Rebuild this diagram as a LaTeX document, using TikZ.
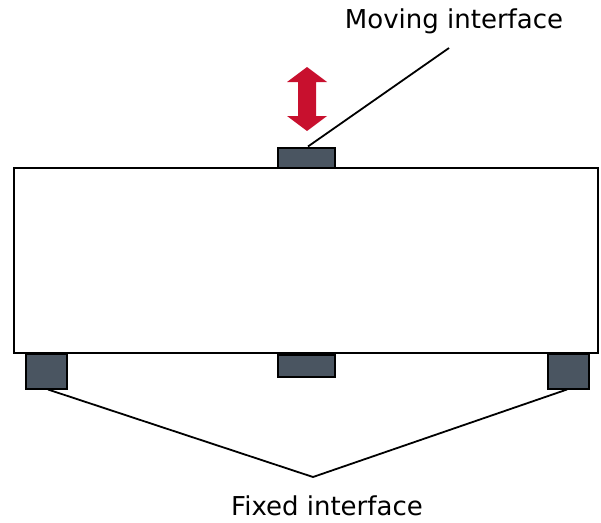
\documentclass[tikz,border=0pt]{standalone}
\usepackage{fontspec}
\setmainfont{DejaVu Sans}
\definecolor{padcol}{HTML}{4A5561}
\definecolor{arrred}{HTML}{C8102E}
\begin{document}
\begin{tikzpicture}[x=1pt,y=-1pt,
  body/.style={draw=black,line width=2.4pt,fill=white,inner sep=0pt},
  pad/.style={draw=black,line width=2pt,fill=padcol,inner sep=0pt},
  leader/.style={draw=black,line width=1.8pt},
  lbl/.style={font=\fontsize{26}{30}\selectfont,inner sep=0pt}]
\useasboundingbox (0,0) rectangle (601,522);
\node[body,minimum width=584pt,minimum height=185pt] (box) at (306,260.5) {};
\node[pad,minimum width=57pt,minimum height=20pt] (toppad) at (306,157.5) {};
\node[pad,minimum width=57pt,minimum height=22pt] (midpad) at (306.5,366) {};
\node[pad,minimum width=41pt,minimum height=35pt] (lpad) at (46.5,371) {};
\node[pad,minimum width=41pt,minimum height=35pt] (rpad) at (568.5,371) {};
\fill[arrred] (307,67) -- (327,82) -- (316,82) -- (316,116) -- (327,116) -- (307,131)
  -- (287,116) -- (298,116) -- (298,82) -- (287,82) -- cycle;
\node[lbl] (movlbl) at (454,21) {Moving interface};
\coordinate (movend) at (449,48);
\draw[leader] ([xshift=2pt]toppad.north) -- (movend);
\node[lbl] (fixlbl) at (327,506) {Fixed interface};
\coordinate (fixv) at (313,477);
\draw[leader] ([xshift=1.5pt]lpad.south) -- (fixv) -- ([xshift=-1.5pt]rpad.south);
\end{tikzpicture}
\end{document}
